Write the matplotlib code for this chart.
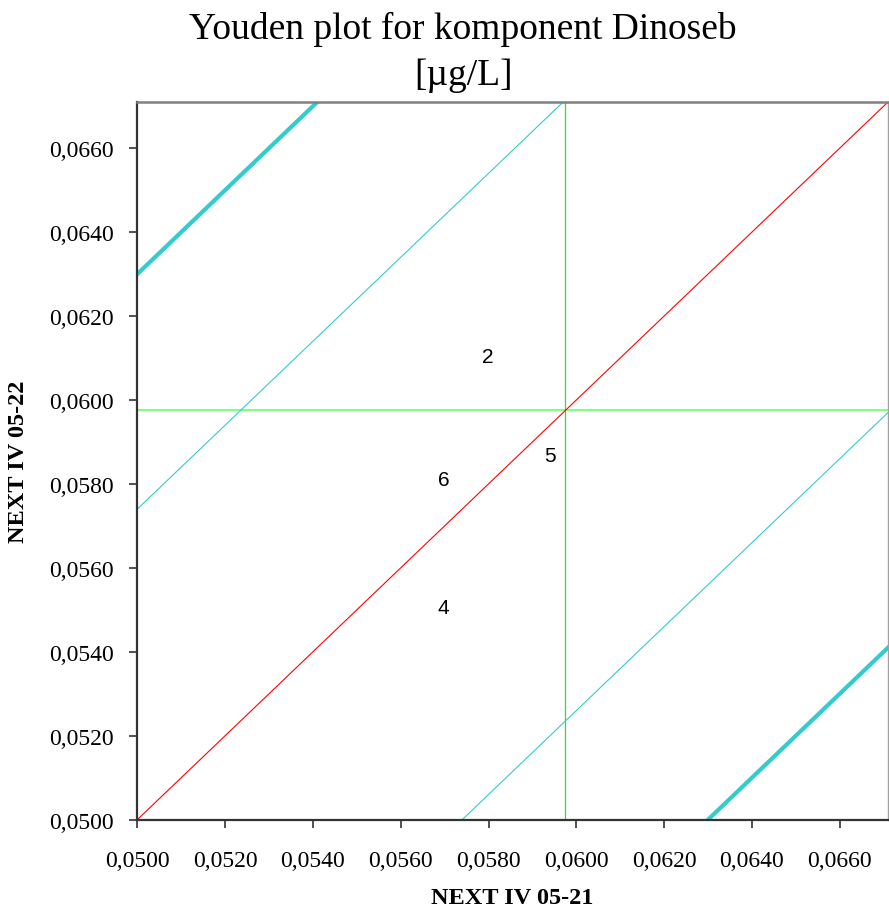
import matplotlib
matplotlib.use("Agg")
import matplotlib.pyplot as plt
import numpy as np

# Data
labels = ["2", "6", "5", "4"]
x_vals = [0.05798, 0.05698, 0.05939, 0.05698]
y_vals = [0.06104, 0.05811, 0.05868, 0.05505]
center = 0.05975
inner_offset = 0.0074
outer_offset = 0.0130
lo, hi = 0.0500, 0.0671
ticks = [0.0500, 0.0520, 0.0540, 0.0560, 0.0580, 0.0600, 0.0620, 0.0640, 0.0660]
tick_labels = ["0,0500", "0,0520", "0,0540", "0,0560", "0,0580", "0,0600", "0,0620", "0,0640", "0,0660"]

serif = "Liberation Serif"
sans = "Liberation Sans"

fig = plt.figure(figsize=(8.89, 9.12), dpi=100)
ax = fig.add_axes([137.3/889, (912-820.7)/912, (888-137.3)/889, (820.7-103)/912])

xs = np.array([lo, hi])
ax.plot(xs, xs, color="#ff0000", lw=0.8, zorder=2)
ax.plot(xs, xs + inner_offset, color="#33cccc", lw=0.8, zorder=2)
ax.plot(xs, xs - inner_offset, color="#33cccc", lw=0.8, zorder=2)
ax.plot(xs, xs + outer_offset, color="#33cccc", lw=3, zorder=2)
ax.plot(xs, xs - outer_offset, color="#33cccc", lw=3, zorder=2)
ax.axhline(center, color="#80ff80", lw=1.5, zorder=1)
ax.axvline(center, color="#33dd33", lw=0.9, zorder=1)

for lab, x, y in zip(labels, x_vals, y_vals):
    ax.text(x, y, lab, ha="center", va="center", fontsize=15, family=sans, color="black", zorder=3)

ax.set_xlim(lo, hi)
ax.set_ylim(lo, hi)
ax.set_xticks(ticks)
ax.set_yticks(ticks)
ax.set_xticklabels(tick_labels, family=serif, fontsize=17)
ax.set_yticklabels(tick_labels, family=serif, fontsize=17)
ax.tick_params(direction="out", length=6, width=1.2, color="#333333", pad=16)
ax.tick_params(axis="y", pad=11)

for s in ["left", "bottom"]:
    ax.spines[s].set_color("#333333")
    ax.spines[s].set_linewidth(1.6)
ax.spines["top"].set_color("#808080")
ax.spines["top"].set_linewidth(1.8)
ax.spines["right"].set_color("#a0a0a0")
ax.spines["right"].set_linewidth(1.0)

ax.set_xlabel("NEXT IV 05-21", family=serif, fontsize=17.5, fontweight="bold", labelpad=11)
ax.set_ylabel("NEXT IV 05-22", family=serif, fontsize=17.5, fontweight="bold", labelpad=14)

fig.text(463/889, 1 - 29/912, "Youden plot for komponent Dinoseb", ha="center", va="center",
         family=serif, fontsize=27)
fig.text(463/889, 1 - 76/912, "[\u00b5g/L]", ha="center", va="center", family=serif, fontsize=27)

fig.savefig("out.png", dpi=100)
